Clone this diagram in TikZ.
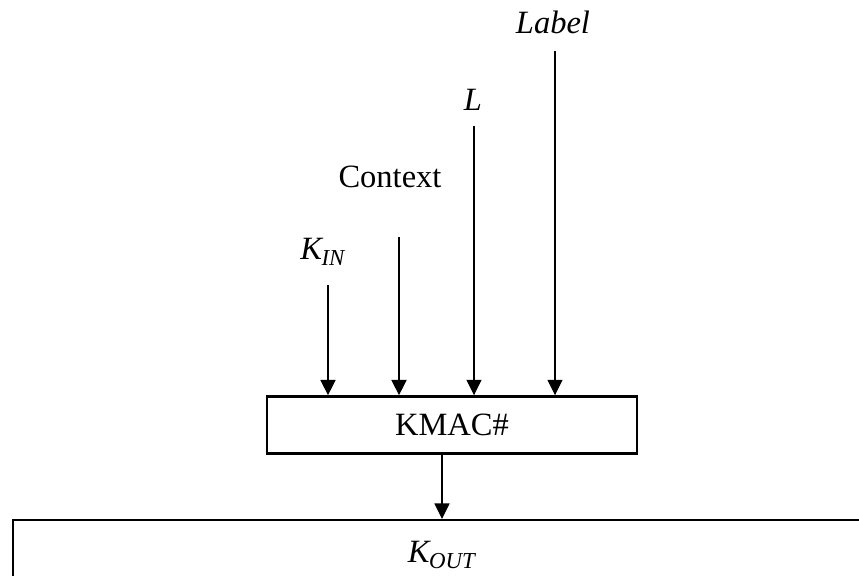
\documentclass[tikz,border=0pt]{standalone}
\usepackage{fontspec}
\setmainfont{Liberation Serif}
\usetikzlibrary{arrows.meta,positioning}
\tikzset{>={Triangle[length=0.31cm,width=0.3cm]}}
\newcommand{\ksub}[2]{\textit{#1}\kern-0.06em\raisebox{-0.17em}{\fontsize{13}{15}\selectfont\textit{#2}}}

\begin{document}
\begin{tikzpicture}[x=0.02cm, y=-0.02cm, font=\fontsize{18.5}{22}\selectfont]

\clip (0,0) rectangle (859,575);

\node[draw, line width=1.4pt, minimum width=7.4cm, minimum height=1.14cm, inner sep=0pt] (kmac) at (452,425) {KMAC\#};

\node[draw, line width=1.2pt, minimum width=17.16cm, minimum height=1.4cm, inner sep=0pt] (kout) at (442,555) {\ksub{K}{OUT}};

\node (kin) at (323,252) {\ksub{K}{IN}};
\node (ctx) at (390,177) {Context};
\node (len) at (473,100) {\textit{L}};
\node (lab) at (553,22) {\textit{Label}};

\coordinate (kin-top) at (328,285);
\coordinate (ctx-top) at (399,237);
\coordinate (len-top) at (474,126);
\coordinate (lab-top) at (555,51);

\draw[->, line width=1.1pt, color=black] (kin-top) -- (kin-top |- kmac.north);
\draw[->, line width=1.1pt, color=black] (ctx-top) -- (ctx-top |- kmac.north);
\draw[->, line width=0.65pt, color=black] (len-top) -- (len-top |- kmac.north);
\draw[->, line width=0.65pt, color=black] (lab-top) -- (lab-top |- kmac.north);

\draw[->, line width=0.7pt, color=black] (kout.north |- kmac.south) -- (kout.north);

\end{tikzpicture}
\end{document}
